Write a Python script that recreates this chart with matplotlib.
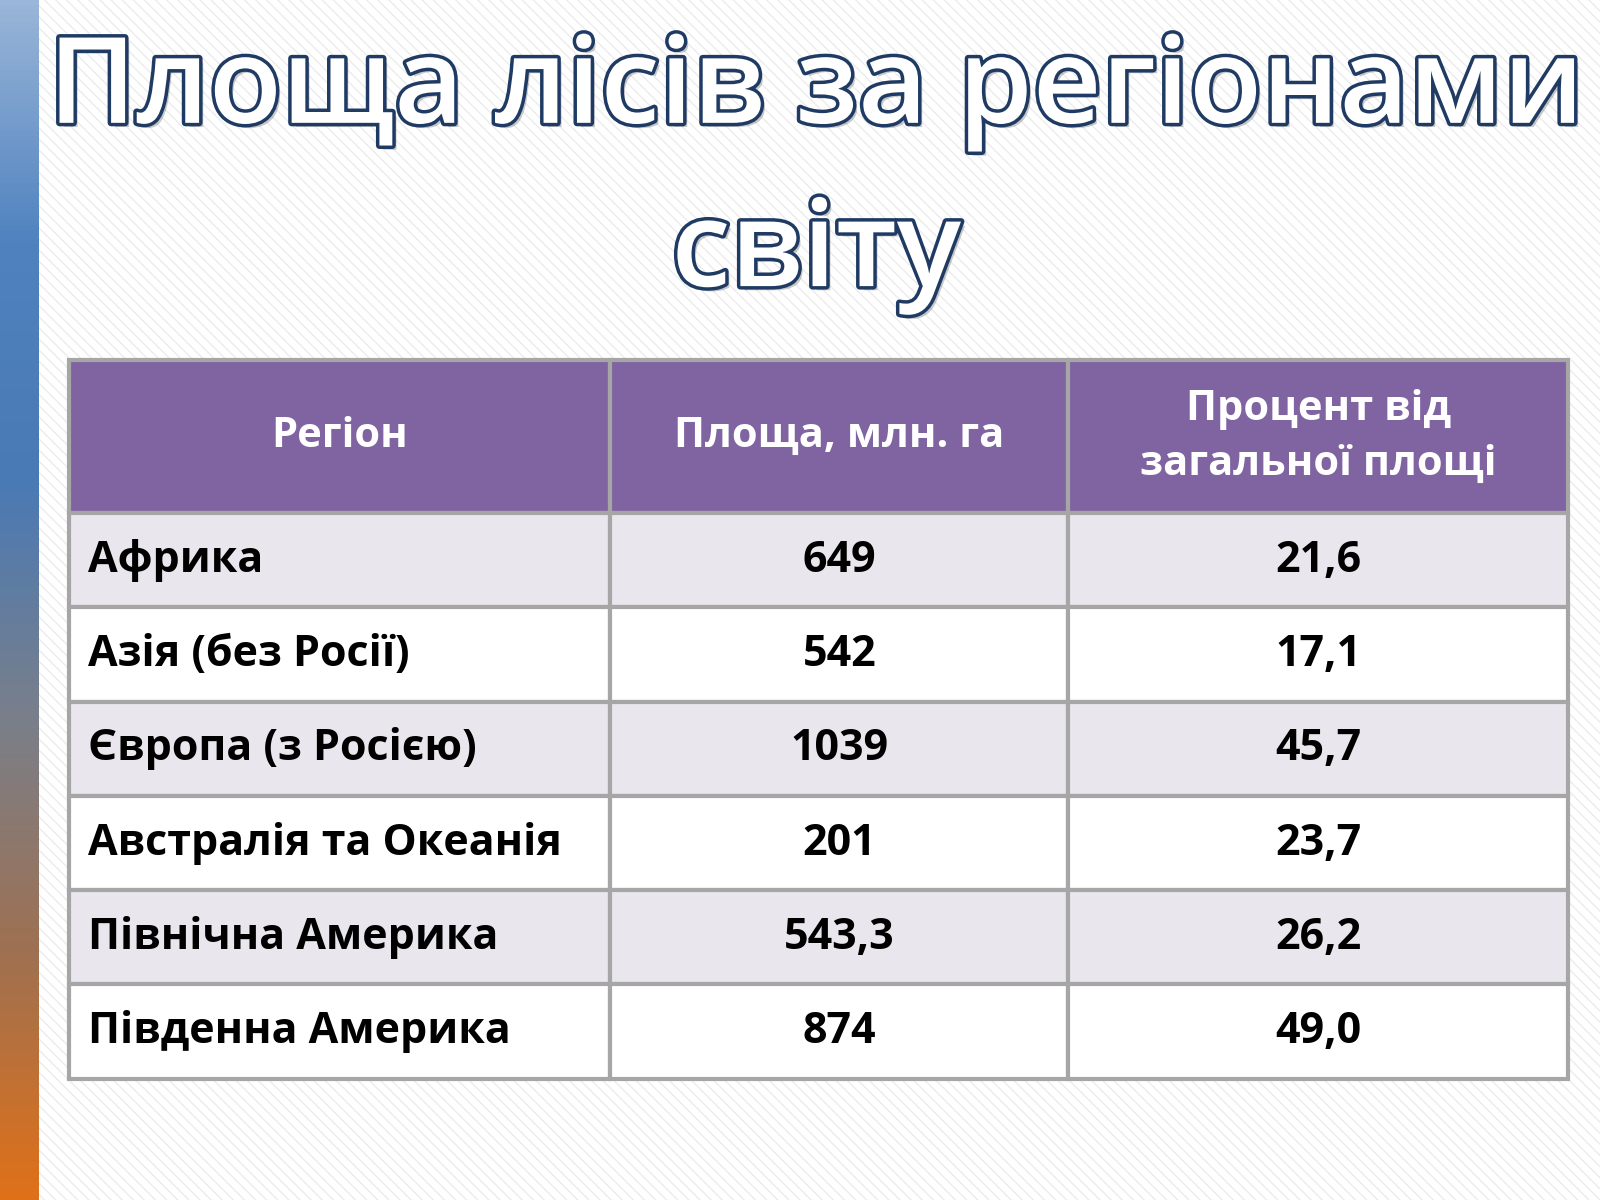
import numpy as np
from matplotlib import pyplot as plt
import matplotlib.colors
import matplotlib.patheffects as pe
from matplotlib.patches import Rectangle

title_lines = ["Площа лісів за регіонами", "світу"]
headers = ["Регіон", "Площа, млн. га", "Процент від\nзагальної площі"]
regions = ["Африка", "Азія (без Росії)", "Європа (з Росією)",
           "Австралія та Океанія", "Північна Америка", "Південна Америка"]
areas = ["649", "542", "1039", "201", "543,3", "874"]
percents = ["21,6", "17,1", "45,7", "23,7", "26,2", "49,0"]

fig = plt.figure(figsize=(16, 12), dpi=100)
ax = fig.add_axes([0, 0, 1, 1])
# layout measured on a 1568x1176 view of the slide
ax.set_xlim(0, 1568)
ax.set_ylim(1176, 0)
ax.axis('off')

# hatched background
ax.add_patch(Rectangle((0, 0), 1568, 1176, facecolor='white',
                       edgecolor='#ececec', hatch='\\\\\\', linewidth=0, zorder=0))

# left gradient bar
cmap = matplotlib.colors.LinearSegmentedColormap.from_list(
    "", ["#9ab6d8", "#4f82bf", "#4a7ab5", "#7a7f8a", "#a07050", "#e07018"])
grad = np.linspace(0, 1, 256).reshape(-1, 1)
ax.imshow(grad, cmap=cmap, extent=(0, 38, 1176, 0), aspect='auto', zorder=1)

# title
fx = [pe.withSimplePatchShadow(offset=(3, -3), alpha=0.3),
      pe.withStroke(linewidth=5, foreground="#1f3b64")]
ax.text(800, 90, title_lines[0], ha='center', va='center', fontsize=86,
        family='Open Sans', weight='semibold', color='white', path_effects=fx, zorder=3)
ax.text(800, 250, title_lines[1], ha='center', va='center', fontsize=86,
        family='Open Sans', weight='semibold', color='white', path_effects=fx, zorder=3)

# table
col_x = [68, 598, 1047, 1537]
head_top, head_bot = 353, 503
row_h = (1057 - head_bot) / len(regions)
grid = '#a6a6a6'

for c in range(3):
    ax.add_patch(Rectangle((col_x[c], head_top), col_x[c + 1] - col_x[c],
                           head_bot - head_top, facecolor='#8064a2',
                           edgecolor=grid, linewidth=3, zorder=2))
    ax.text((col_x[c] + col_x[c + 1]) / 2, (head_top + head_bot) / 2, headers[c],
            ha='center', va='center', fontsize=30, family='Open Sans',
            weight='bold', color='white', linespacing=1.45, zorder=3)

for i in range(len(regions)):
    y0 = head_bot + i * row_h
    fill = '#e9e7ed' if i % 2 == 0 else 'white'
    vals = [regions[i], areas[i], percents[i]]
    for c in range(3):
        ax.add_patch(Rectangle((col_x[c], y0), col_x[c + 1] - col_x[c], row_h,
                               facecolor=fill, edgecolor=grid, linewidth=3, zorder=2))
        if c == 0:
            ax.text(col_x[0] + 18, y0 + row_h / 2, vals[c], ha='left', va='center',
                    fontsize=31, family='Open Sans', weight='bold', color='black', zorder=3)
        else:
            ax.text((col_x[c] + col_x[c + 1]) / 2, y0 + row_h / 2, vals[c],
                    ha='center', va='center', fontsize=31, family='Open Sans',
                    weight='bold', color='black', zorder=3)

fig.savefig('out.png', dpi=100)
